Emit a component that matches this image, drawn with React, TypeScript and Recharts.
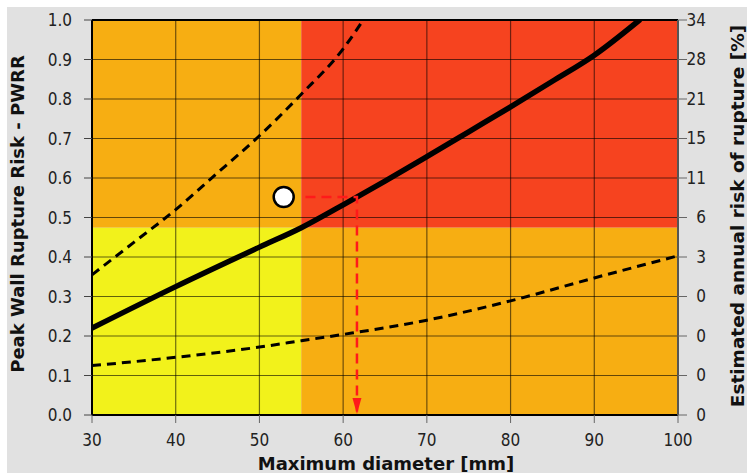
import React from "react";
import {
  ComposedChart,
  Line,
  XAxis,
  YAxis,
  ReferenceArea,
  ReferenceLine,
  ReferenceDot,
  Label,
} from "recharts";

// axes
const diameterTicks = [30, 40, 50, 60, 70, 80, 90, 100];
const pwrrTicks = [0, 0.1, 0.2, 0.3, 0.4, 0.5, 0.6, 0.7, 0.8, 0.9, 1.0];
const annualRiskLabels = ["0", "0", "0", "0", "3", "6", "11", "15", "21", "28", "34"];

// risk zones
const diameterThreshold = 55;
const pwrrThreshold = 0.475;

// curves (diameter mm -> PWRR)
const pwrrCurve = [
  { d: 30, v: 0.22 },
  { d: 40, v: 0.325 },
  { d: 50, v: 0.425 },
  { d: 55, v: 0.474 },
  { d: 60, v: 0.532 },
  { d: 65, v: 0.592 },
  { d: 70, v: 0.654 },
  { d: 75, v: 0.717 },
  { d: 80, v: 0.78 },
  { d: 85, v: 0.845 },
  { d: 90, v: 0.911 },
  { d: 95.4, v: 1.0 },
];

const upperBound = [
  { d: 30, v: 0.355 },
  { d: 35, v: 0.437 },
  { d: 40, v: 0.52 },
  { d: 45, v: 0.613 },
  { d: 50, v: 0.707 },
  { d: 55, v: 0.812 },
  { d: 60, v: 0.927 },
  { d: 62.4, v: 1.0 },
];

const lowerBound = [
  { d: 30, v: 0.125 },
  { d: 40, v: 0.146 },
  { d: 50, v: 0.172 },
  { d: 55, v: 0.188 },
  { d: 60, v: 0.204 },
  { d: 70, v: 0.24 },
  { d: 80, v: 0.289 },
  { d: 90, v: 0.347 },
  { d: 100, v: 0.403 },
];

const patient = { d: 52.9, v: 0.552 };

const readoutPath = [
  { d: 55.5, v: 0.552 },
  { d: 61.65, v: 0.552 },
  { d: 61.65, v: 0 },
];

const YELLOW = "#F2F21B";
const ORANGE = "#F7AE12";
const RED = "#F6431F";
const FONT = "DejaVu Sans, Verdana, sans-serif";
const TICK_FONT = "'DejaVu Sans Condensed', 'DejaVu Sans', sans-serif";

const ArrowHead = (props: any) => {
  const { cx, cy, index } = props;
  if (index !== readoutPath.length - 1) return <g key={`a-${index}`} />;
  return (
    <polygon
      key={`a-${index}`}
      points={`${cx - 4.5},${cy - 17} ${cx + 4.5},${cy - 17} ${cx},${cy - 1}`}
      fill="#ff1a1a"
    />
  );
};

const RightTick = (props: any) => {
  const { x, y, payload } = props;
  const i = Math.round(payload.value * 10);
  return (
    <text x={x + 17} y={y} dy="0.35em" textAnchor="end" fontSize={17} fontFamily={TICK_FONT} fill="#222">
      {annualRiskLabels[i]}
    </text>
  );
};

export default function App() {
  return (
    <div style={{ position: "absolute", left: 7, top: 7, width: 740, height: 466, background: "#E1E1E1" }}>
      <ComposedChart width={740} height={466} margin={{ top: 13, right: 20, bottom: 28, left: 25 }}>
        <XAxis
          type="number"
          dataKey="d"
          domain={[30, 100]}
          ticks={diameterTicks}
          allowDataOverflow
          height={30}
          tickSize={8}
          tickMargin={11}
          axisLine={{ stroke: "#000", strokeWidth: 2 }}
          tickLine={{ stroke: "#666" }}
          tick={{ fontSize: 17, fontFamily: TICK_FONT, fill: "#222" }}
        >
          <Label
            content={() => (
              <text x={379} y={463} textAnchor="middle" fontSize={18} fontWeight="bold" fontFamily={FONT} fill="#111">
                Maximum diameter [mm]
              </text>
            )}
          />
        </XAxis>
        <YAxis
          yAxisId="left"
          type="number"
          domain={[0, 1]}
          ticks={pwrrTicks}
          allowDataOverflow
          width={60}
          tickSize={8}
          tickMargin={12}
          tickFormatter={(v: number) => v.toFixed(1)}
          axisLine={{ stroke: "#000", strokeWidth: 2 }}
          tickLine={{ stroke: "#444" }}
          tick={{ fontSize: 17, fontFamily: TICK_FONT, fill: "#222" }}
        >
          <Label
            content={() => (
              <text
                x={11}
                y={207}
                transform="rotate(-90 11 207)"
                dy="0.35em"
                textAnchor="middle"
                fontSize={18}
                fontWeight="bold"
                fontFamily={FONT}
                fill="#111"
              >
                Peak Wall Rupture Risk - PWRR
              </text>
            )}
          />
        </YAxis>
        <YAxis
          yAxisId="right"
          orientation="right"
          type="number"
          domain={[0, 1]}
          ticks={pwrrTicks}
          allowDataOverflow
          width={49}
          tickSize={9}
          tickMargin={2}
          axisLine={{ stroke: "#555", strokeWidth: 2 }}
          tickLine={{ stroke: "#666" }}
          tick={(p: any) => <RightTick {...p} />}
        >
          <Label
            content={() => (
              <text
                x={731}
                y={209}
                transform="rotate(-90 731 209)"
                dy="0.35em"
                textAnchor="middle"
                fontSize={18.5}
                fontWeight="bold"
                fontFamily={FONT}
                fill="#111"
              >
                Estimated annual risk of rupture [%]
              </text>
            )}
          />
        </YAxis>

        <ReferenceArea yAxisId="left" x1={30} x2={diameterThreshold} y1={0} y2={pwrrThreshold} fill={YELLOW} fillOpacity={1} stroke="none" />
        <ReferenceArea yAxisId="left" x1={30} x2={diameterThreshold} y1={pwrrThreshold} y2={1} fill={ORANGE} fillOpacity={1} stroke="none" />
        <ReferenceArea yAxisId="left" x1={diameterThreshold} x2={100} y1={0} y2={pwrrThreshold} fill={ORANGE} fillOpacity={1} stroke="none" />
        <ReferenceArea yAxisId="left" x1={diameterThreshold} x2={100} y1={pwrrThreshold} y2={1} fill={RED} fillOpacity={1} stroke="none" />

        {diameterTicks.slice(1, -1).map((t) => (
          <ReferenceLine key={`vx-${t}`} yAxisId="left" x={t} stroke="#000" strokeOpacity={0.55} strokeWidth={1.2} />
        ))}
        {pwrrTicks.slice(1, -1).map((t) => (
          <ReferenceLine key={`hy-${t}`} yAxisId="left" y={t} stroke="#000" strokeOpacity={0.6} strokeWidth={1.2} />
        ))}
        <ReferenceLine yAxisId="left" y={1} stroke="#000" strokeWidth={2} />

        <Line yAxisId="right" data={upperBound} dataKey="v" type="monotone" stroke="#000" strokeWidth={3} strokeDasharray="9 6" dot={false} isAnimationActive={false} />
        <Line yAxisId="left" data={lowerBound} dataKey="v" type="monotone" stroke="#000" strokeWidth={3} strokeDasharray="9 6" dot={false} isAnimationActive={false} />
        <Line yAxisId="left" data={pwrrCurve} dataKey="v" type="monotone" stroke="#000" strokeWidth={5.5} strokeLinecap="round" dot={false} isAnimationActive={false} />
        <Line
          yAxisId="left"
          data={readoutPath}
          dataKey="v"
          type="linear"
          stroke="#ff1a1a"
          strokeWidth={2.5}
          strokeDasharray="10 6"
          dot={ArrowHead}
          activeDot={false}
          isAnimationActive={false}
        />
        <ReferenceDot yAxisId="left" x={patient.d} y={patient.v} r={10} fill="#fff" stroke="#000" strokeWidth={2.5} />
      </ComposedChart>
    </div>
  );
}
